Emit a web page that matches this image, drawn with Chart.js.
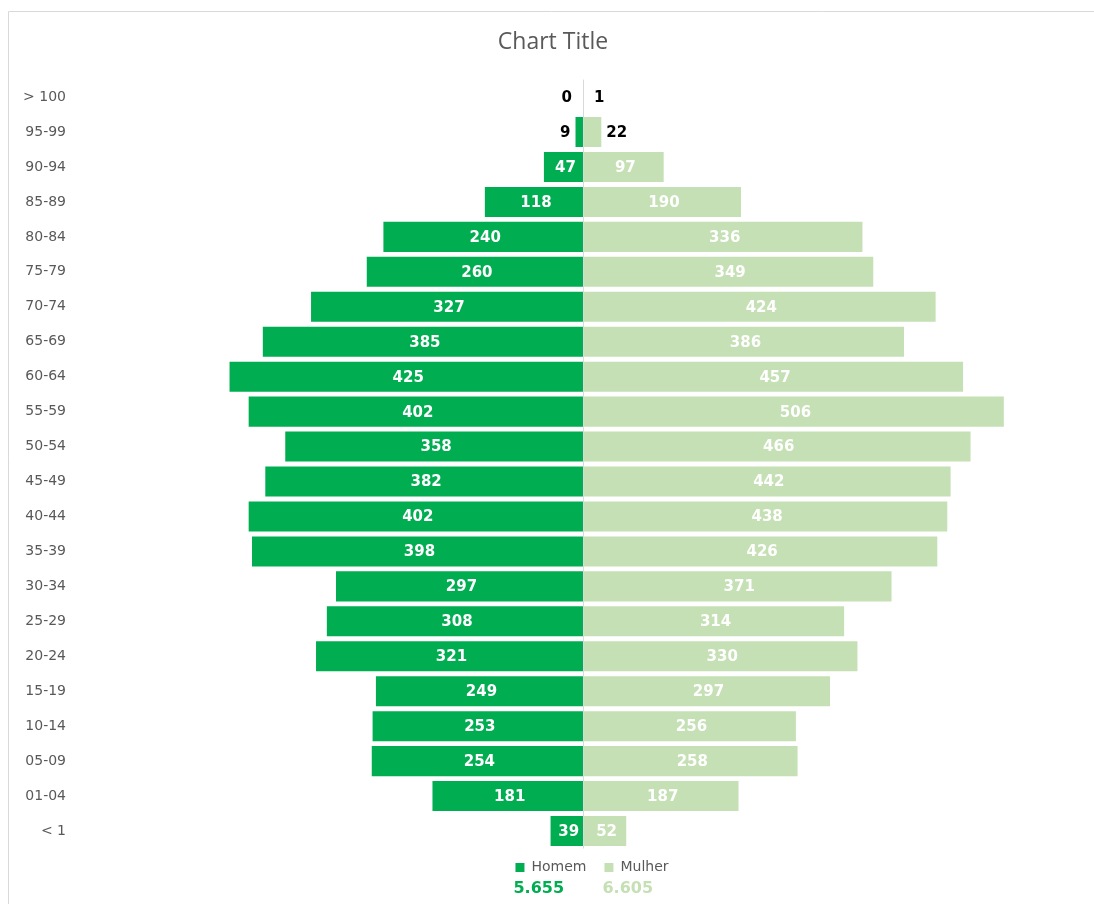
<!DOCTYPE html>
<html>
<head>
<meta charset="utf-8">
<title>Chart Title</title>
<script src="https://cdn.jsdelivr.net/npm/chart.js@4.4.1/dist/chart.umd.min.js"></script>
<style>
  html, body { margin: 0; padding: 0; background: #ffffff; }
  #wrap { position: relative; width: 1094px; height: 904px; }
</style>
</head>
<body>
<div id="wrap"><canvas id="pyramid"></canvas></div>
<script>
const faixas = ["> 100", "95-99", "90-94", "85-89", "80-84", "75-79", "70-74", "65-69",
  "60-64", "55-59", "50-54", "45-49", "40-44", "35-39", "30-34", "25-29", "20-24",
  "15-19", "10-14", "05-09", "01-04", "< 1"];
const homem = [0, 9, 47, 118, 240, 260, 327, 385, 425, 402, 358, 382, 402, 398, 297, 308, 321, 249, 253, 254, 181, 39];
const mulher = [1, 22, 97, 190, 336, 349, 424, 386, 457, 506, 466, 442, 438, 426, 371, 314, 330, 297, 256, 258, 187, 52];

const verdeEscuro = "#00AD50";
const verdeClaro = "#C5E0B4";
const cinza = "#595959";

function formatBR(n) {
  return String(n).replace(/\B(?=(\d{3})+(?!\d))/g, ".");
}

// frame + white background
const moldura = {
  id: "moldura",
  beforeDraw(chart) {
    const ctx = chart.ctx;
    ctx.save();
    ctx.fillStyle = "#ffffff";
    ctx.fillRect(0, 0, chart.width, chart.height);
    ctx.strokeStyle = "#D9D9D9";
    ctx.lineWidth = 1;
    ctx.beginPath();
    ctx.moveTo(8.5, chart.height);
    ctx.lineTo(8.5, 11.5);
    ctx.lineTo(chart.width, 11.5);
    ctx.stroke();
    ctx.restore();
  }
};

// nudge the legend a bit (Excel puts it slightly right / higher)
const posLegenda = {
  id: "posLegenda",
  afterLayout(chart) {
    const lg = chart.legend;
    if (!lg) return;
    lg.left += 9;
    lg.right += 9;
    lg.top -= 6;
    lg.bottom -= 6;
  }
};

// center line at zero
const eixoCentral = {
  id: "eixoCentral",
  afterDatasetsDraw(chart) {
    const ctx = chart.ctx;
    const x = Math.round(chart.scales.x.getPixelForValue(0)) + 0.5;
    ctx.save();
    ctx.strokeStyle = "#D9D9D9";
    ctx.lineWidth = 1;
    ctx.beginPath();
    ctx.moveTo(x, chart.chartArea.top);
    ctx.lineTo(x, chart.chartArea.bottom);
    ctx.stroke();
    ctx.restore();
  }
};

// value labels on the bars
const rotulos = {
  id: "rotulos",
  afterDatasetsDraw(chart) {
    const ctx = chart.ctx;
    ctx.save();
    ctx.font = "bold 15px 'DejaVu Sans'";
    ctx.textBaseline = "middle";
    chart.data.datasets.forEach((ds, di) => {
      const meta = chart.getDatasetMeta(di);
      meta.data.forEach((bar, i) => {
        const v = Math.abs(ds.data[i]);
        const w = Math.abs(bar.x - bar.base);
        if (w >= 25) {
          ctx.fillStyle = "#ffffff";
          ctx.textAlign = "center";
          ctx.fillText(v, (bar.x + bar.base) / 2 + 2, bar.y + 1);
        } else {
          const gap = Math.max(5, 11 - w);
          ctx.fillStyle = "#000000";
          if (ds.data[i] <= 0) {
            ctx.textAlign = "right";
            ctx.fillText(v, Math.min(bar.x, bar.base) - gap, bar.y + 1);
          } else {
            ctx.textAlign = "left";
            ctx.fillText(v, Math.max(bar.x, bar.base) + gap, bar.y + 1);
          }
        }
      });
    });
    ctx.restore();
  }
};

// totals under each legend item
const totais = {
  id: "totais",
  afterDraw(chart) {
    const legend = chart.legend;
    if (!legend || !legend.legendHitBoxes) return;
    const ctx = chart.ctx;
    const somas = [homem, mulher].map(a => a.reduce((s, v) => s + v, 0));
    const cores = [verdeEscuro, verdeClaro];
    ctx.save();
    ctx.font = "bold 16px 'DejaVu Sans'";
    ctx.textBaseline = "middle";
    ctx.textAlign = "left";
    legend.legendHitBoxes.forEach((hb, i) => {
      ctx.fillStyle = cores[i];
      ctx.fillText(formatBR(somas[i]), hb.left - 2, hb.top + hb.height / 2 + 21);
    });
    ctx.restore();
  }
};

new Chart(document.getElementById("pyramid"), {
  type: "bar",
  data: {
    labels: faixas,
    datasets: [
      {
        label: "Homem",
        data: homem.map(v => -v),
        backgroundColor: verdeEscuro,
        borderWidth: 0,
        barPercentage: 0.86,
        categoryPercentage: 1
      },
      {
        label: "Mulher",
        data: mulher,
        backgroundColor: verdeClaro,
        borderWidth: 0,
        barPercentage: 0.86,
        categoryPercentage: 1
      }
    ]
  },
  options: {
    indexAxis: "y",
    responsive: true,
    maintainAspectRatio: false,
    animation: false,
    layout: { padding: { left: 24, right: 12, top: 0, bottom: 13.5 } },
    scales: {
      x: {
        stacked: true,
        display: false,
        min: -600,
        max: 600
      },
      y: {
        stacked: true,
        grid: { display: false, drawTicks: false },
        border: { display: false },
        ticks: {
          color: cinza,
          padding: 18,
          font: { family: "'DejaVu Sans'", size: 14 }
        },
        afterFit(scale) { scale.width = 60; }
      }
    },
    plugins: {
      title: {
        display: true,
        text: "Chart Title",
        color: cinza,
        font: { family: "'Open Sans'", size: 23, weight: "normal" },
        padding: { top: 29, bottom: 23 }
      },
      legend: {
        position: "bottom",
        fullSize: false,
        labels: {
          boxWidth: 9,
          boxHeight: 9,
          padding: 18,
          color: cinza,
          font: { family: "'DejaVu Sans'", size: 14 }
        }
      },
      tooltip: { enabled: false }
    }
  },
  plugins: [moldura, posLegenda, eixoCentral, rotulos, totais]
});
</script>
</body>
</html>
